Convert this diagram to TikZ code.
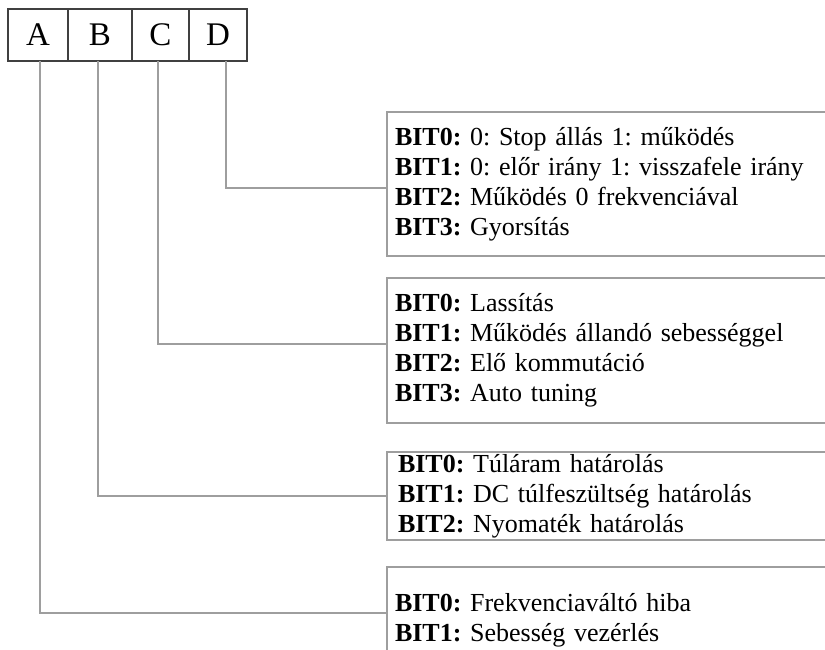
\documentclass[tikz,border=0pt]{standalone}
\usepackage{fontspec}
\setmainfont{Liberation Serif}
\usepackage{tikz}
\usetikzlibrary{positioning}
\definecolor{linegray}{gray}{0.62}
\definecolor{cellgray}{gray}{0.25}
\newcommand{\bitrow}[2]{\textbf{BIT#1:} #2}
\frenchspacing

\begin{document}
\begin{tikzpicture}[x=1pt,y=-1pt,
  cell/.style={draw=cellgray,line width=1.1pt,outer sep=0pt,minimum height=52pt,inner sep=0pt,font=\fontsize{33}{38}\selectfont},
  bitbox/.style={draw=linegray,line width=1.3pt,outer sep=0pt,anchor=north west,align=left,text width=460pt,inner xsep=8pt,inner ysep=0pt,font=\fontsize{26}{30}\selectfont},
  link/.style={draw=linegray,line width=1.3pt}]
\useasboundingbox (0,0) rectangle (825,650);
\clip (0,0) rectangle (825,650);
% register cells
\node[cell,minimum width=60pt] (A) at (38,35) {A};
\node[cell,minimum width=64pt,right=0pt of A] (B) {B};
\node[cell,minimum width=57pt,right=0pt of B] (C) {C};
\node[cell,minimum width=58pt,right=0pt of C] (D) {D};
% bit descriptions
\node[bitbox,minimum height=144pt] (dbox) at (387,112) {\bitrow{0}{0: Stop állás 1: működés}\\
  \bitrow{1}{0: előr irány 1: visszafele irány}\\
  \bitrow{2}{Működés 0 frekvenciával}\\
  \bitrow{3}{Gyorsítás}};
\node[bitbox,minimum height=145pt] (cbox) at (387,278) {\bitrow{0}{Lassítás}\\
  \bitrow{1}{Működés állandó sebességgel}\\
  \bitrow{2}{Elő kommutáció}\\
  \bitrow{3}{Auto tuning}};
\node[bitbox,minimum height=88pt,inner xsep=11pt] (bbox) at (387,452) {\bitrow{0}{Túláram határolás}\\
  \bitrow{1}{DC túlfeszültség határolás}\\
  \bitrow{2}{Nyomaték határolás}};
\node[bitbox,minimum height=106pt] (abox) at (387,567) {\bitrow{0}{Frekvenciaváltó hiba}\\
  \bitrow{1}{Sebesség vezérlés}};
% connectors
\draw[link] ([xshift=8pt]D.south) |- ([yshift=-4pt]dbox.west);
\draw[link] ([xshift=-2.5pt]C.south) |- ([yshift=6.5pt]cbox.west);
\draw[link] ([xshift=-2pt]B.south) |- (bbox.west);
\draw[link] ([xshift=2pt]A.south) |- ([yshift=7pt]abox.west);
\end{tikzpicture}
\end{document}
